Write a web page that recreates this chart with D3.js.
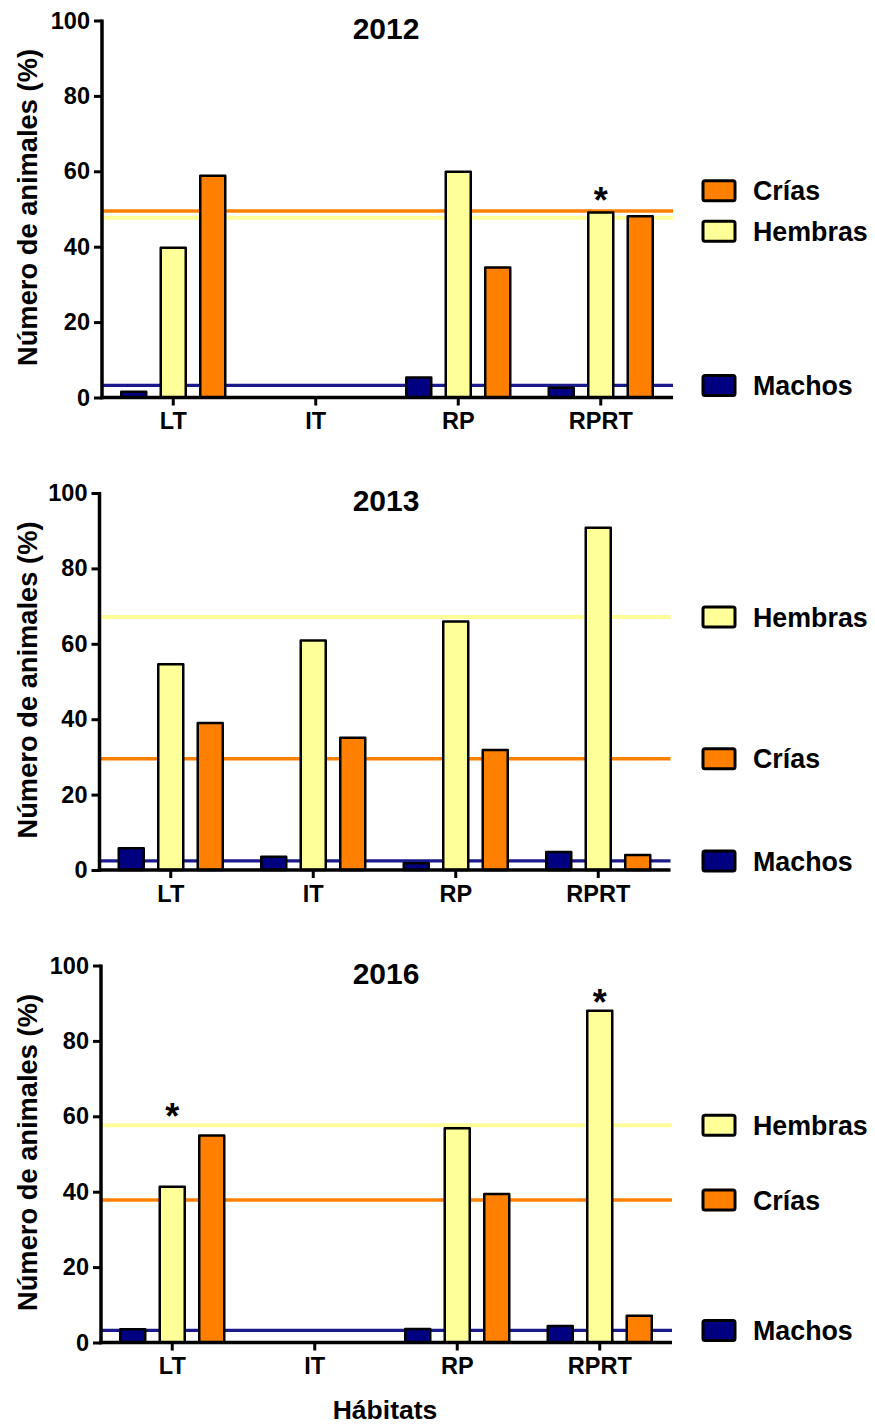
<!DOCTYPE html>
<html>
<head>
<meta charset="utf-8">
<script src="https://cdn.jsdelivr.net/npm/d3@7"></script>
<style>
  html, body { margin: 0; padding: 0; background: #fff; }
  svg { display: block; font-family: "Liberation Sans", Arial, Helvetica, sans-serif; font-weight: bold; }
</style>
</head>
<body>
<svg id="chart" width="875" height="1425"></svg>
<script>
// Habitat categories, series and tick values
const categories = ["LT", "IT", "RP", "RPRT"];
const seriesNames = ["Machos", "Hembras", "Crías"];
const panelYears = ["2012", "2013", "2016"];
const yTickValues = [0, 20, 40, 60, 80, 100];

// Percentages per habitat (LT, IT, RP, RPRT)
const machos2012 = [1.5, 0, 5.3, 2.6];
const hembras2012 = [39.7, 0, 59.9, 49.1];
const crias2012 = [58.8, 0, 34.5, 48.1];
const means2012 = [3.2, 47.7, 49.5];   // Machos, Hembras, Crías
const starCats2012 = ["RPRT"];
const starLevels2012 = [54.5];

const machos2013 = [5.8, 3.5, 1.8, 4.8];
const hembras2013 = [54.6, 60.9, 65.9, 90.8];
const crias2013 = [39.0, 35.1, 31.8, 4.0];
const means2013 = [2.4, 67.1, 29.5];
const starCats2013 = [];
const starLevels2013 = [];

const machos2016 = [3.5, 0, 3.6, 4.4];
const hembras2016 = [41.3, 0, 56.8, 88.0];
const crias2016 = [54.9, 0, 39.4, 7.1];
const means2016 = [3.2, 57.6, 37.8];
const starCats2016 = ["LT", "RPRT"];
const starLevels2016 = [62.0, 92.3];

const panels = [
  { year: panelYears[0], values: [machos2012, hembras2012, crias2012], means: means2012, starCats: starCats2012, starLevels: starLevels2012 },
  { year: panelYears[1], values: [machos2013, hembras2013, crias2013], means: means2013, starCats: starCats2013, starLevels: starLevels2013 },
  { year: panelYears[2], values: [machos2016, hembras2016, crias2016], means: means2016, starCats: starCats2016, starLevels: starLevels2016 }
];

const fillColors = { "Machos": "#000080", "Hembras": "#ffff99", "Crías": "#ff8000" };
const lineColors = { "Machos": "#1a1a8c", "Hembras": "#ffff99", "Crías": "#ff8000" };
const lineWidths = { "Machos": 3.2, "Hembras": 4, "Crías": 3.5 };

// Layout
const axisX = 101, axisRight = 672;
const panelTop0 = 20.5, panelStep = 472.5, plotH = 377;
const panelDx = [1, -1.5, 0];
const legendBoxX = 703, legendBoxW = 32, legendBoxH = 20, legendTextX = 753;
const starSize = 36;

const svg = d3.select("#chart");
svg.append("rect").attr("width", 875).attr("height", 1425).attr("fill", "#fff");

panels.forEach((p, i) => {
  const top = panelTop0 + i * panelStep;
  const dx = panelDx[i];
  const g = svg.append("g").attr("transform", `translate(${dx},${top})`);

  const y = d3.scaleLinear().domain([0, 100]).range([plotH, 0]);
  const x = d3.scaleBand().domain(categories).range([axisX, axisRight - 1]).paddingInner(0).paddingOuter(0);
  const xs = d3.scaleBand().domain(seriesNames).range([-52, 52]).paddingInner(0.367).paddingOuter(0);

  // Mean reference lines (behind bars)
  seriesNames.forEach((s, k) => {
    g.append("line")
      .attr("x1", axisX).attr("x2", axisRight)
      .attr("y1", y(p.means[k])).attr("y2", y(p.means[k]))
      .attr("stroke", lineColors[s]).attr("stroke-width", lineWidths[s]);
  });

  // Bars
  const barData = [];
  categories.forEach((c, ci) => {
    seriesNames.forEach((s, k) => {
      const v = p.values[k][ci];
      if (v > 0) barData.push({ c, s, v });
    });
  });
  g.selectAll("rect.bar").data(barData).join("rect")
    .attr("class", "bar")
    .attr("x", d => x(d.c) + x.bandwidth() / 2 + xs(d.s))
    .attr("width", xs.bandwidth())
    .attr("y", d => y(d.v))
    .attr("height", d => y(0) - y(d.v))
    .attr("fill", d => fillColors[d.s])
    .attr("stroke", "#000").attr("stroke-width", 2.5)
    .attr("stroke-linejoin", "round");

  // Significance asterisks above the Hembras bars
  p.starCats.forEach((c, si) => {
    g.append("text")
      .attr("x", x(c) + x.bandwidth() / 2 + xs("Hembras") + xs.bandwidth() / 2)
      .attr("y", y(p.starLevels[si]) + 0.57 * starSize)
      .attr("text-anchor", "middle")
      .attr("font-size", starSize)
      .text("*");
  });

  // Y axis
  const yAxis = d3.axisLeft(y).tickValues(yTickValues).tickSize(8).tickPadding(4).tickSizeOuter(0);
  const ya = g.append("g").attr("transform", `translate(${axisX},0)`).call(yAxis);
  ya.select(".domain").remove();
  ya.selectAll(".tick line").attr("stroke", "#000").attr("stroke-width", 3);
  ya.selectAll(".tick text").attr("font-size", 23.5).attr("font-family", null).attr("font-weight", "bold").attr("fill", "#000");
  g.append("line").attr("x1", axisX).attr("x2", axisX).attr("y1", y(100) - 1).attr("y2", y(0) + 1.75)
    .attr("stroke", "#000").attr("stroke-width", 3.5);

  // X axis
  const xAxis = d3.axisBottom(x).tickSize(8).tickPadding(7).tickSizeOuter(0);
  const xa = g.append("g").attr("transform", `translate(0,${y(0)})`).call(xAxis);
  xa.select(".domain").remove();
  xa.selectAll(".tick line").attr("stroke", "#000").attr("stroke-width", 3);
  xa.selectAll(".tick text").attr("font-size", 23.5).attr("font-family", null).attr("font-weight", "bold").attr("fill", "#000");
  g.append("line").attr("x1", axisX - 1.75).attr("x2", axisRight).attr("y1", y(0)).attr("y2", y(0))
    .attr("stroke", "#000").attr("stroke-width", 3.5);

  // Title
  g.append("text").attr("x", 386 - dx).attr("y", 18)
    .attr("text-anchor", "middle").attr("font-size", 30).text(p.year);

  // Y axis label
  g.append("text")
    .attr("transform", `translate(${37 - dx},${plotH / 2 - 1.5}) rotate(-90)`)
    .attr("text-anchor", "middle").attr("font-size", 27.3)
    .text("Número de animales (%)");

  // Legend entries placed at the level of each mean line, spread apart where they collide
  const items = seriesNames.map((s, k) => ({ s, cy: y(p.means[k]) })).sort((a, b) => a.cy - b.cy);
  const minGap = 40.5;
  for (let iter = 0; iter < 20; iter++) {
    for (let j = 1; j < items.length; j++) {
      const gap = items[j].cy - items[j - 1].cy;
      if (gap < minGap) {
        // the upper entry moves more than the lower one
        const need = minGap - gap;
        items[j - 1].cy -= need * 0.6;
        items[j].cy += need * 0.4;
      }
    }
  }
  const lg = g.append("g").attr("transform", `translate(${-dx},0)`);
  items.forEach(it => {
    lg.append("rect")
      .attr("x", legendBoxX).attr("y", it.cy - legendBoxH / 2)
      .attr("width", legendBoxW).attr("height", legendBoxH)
      .attr("rx", 2)
      .attr("fill", fillColors[it.s]).attr("stroke", "#000").attr("stroke-width", 3);
    lg.append("text")
      .attr("x", legendTextX).attr("y", it.cy).attr("dy", "0.36em")
      .attr("font-size", 26.8).text(it.s);
  });
});

// Shared x axis title
svg.append("text").attr("x", 385).attr("y", 1419)
  .attr("text-anchor", "middle").attr("font-size", 26.5).text("Hábitats");
</script>
</body>
</html>
